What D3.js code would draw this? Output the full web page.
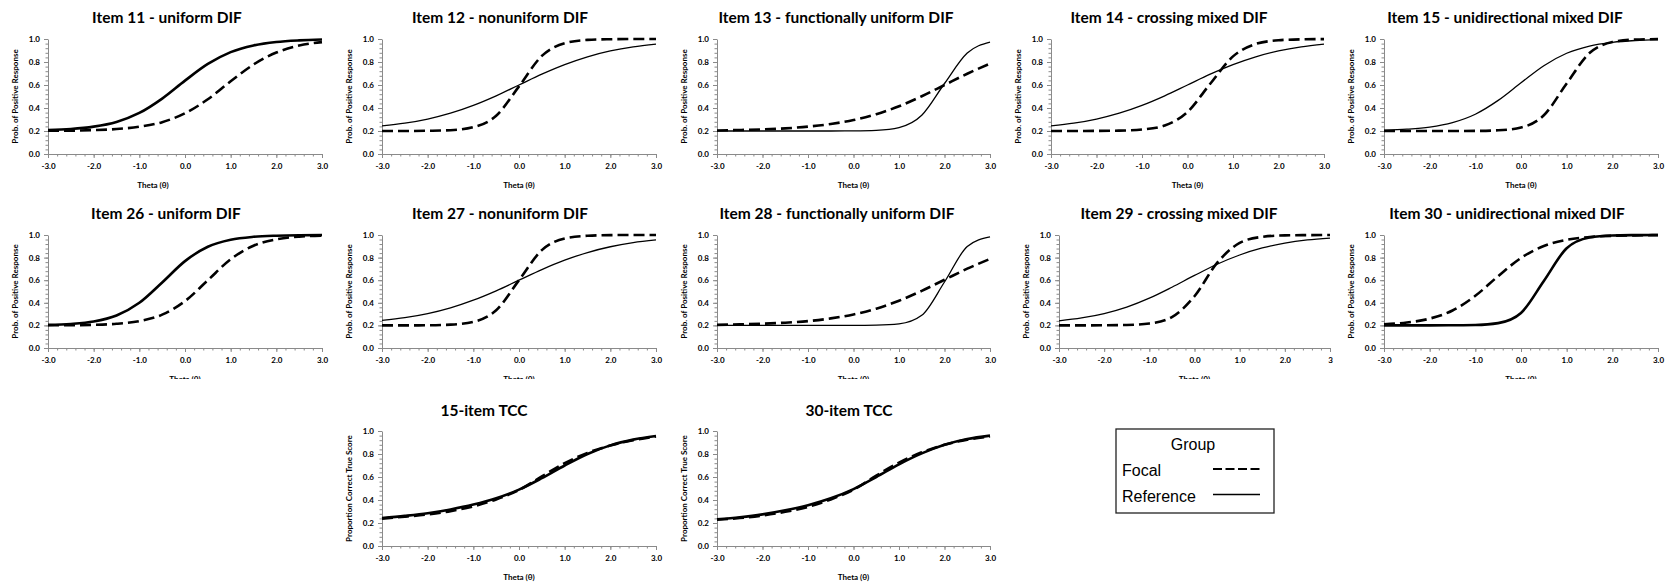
<!DOCTYPE html>
<html><head><meta charset="utf-8">
<script src="https://cdn.jsdelivr.net/npm/d3@7"></script>
<style>body{margin:0;background:#fff}</style>
</head><body>
<svg id="c" width="1671" height="587"></svg>
<script>
// ---------------- DATA ----------------
const theta = [-3,-2.5,-2,-1.5,-1,-0.5,0,0.5,1,1.5,2,2.5,3];
const xTickValues = [-3,-2,-1,0,1,2,3];
const xTickLabels = ["-3.0","-2.0","-1.0","0.0","1.0","2.0","3.0"];
const xTickLabels29 = ["-3.0","-2.0","-1.0","0.0","1.0","2.0","3"];
const yTickValues = [0,0.2,0.4,0.6,0.8,1.0];
const yTickLabels = ["0.0","0.2","0.4","0.6","0.8","1.0"];
const panelTitles = ["Item 11 - uniform DIF","Item 12 - nonuniform DIF","Item 13 - functionally uniform DIF","Item 14 - crossing mixed DIF","Item 15 - unidirectional mixed DIF",
  "Item 26 - uniform DIF","Item 27 - nonuniform DIF","Item 28 - functionally uniform DIF","Item 29 - crossing mixed DIF","Item 30 - unidirectional mixed DIF",
  "15-item TCC","30-item TCC"];
const xAxisTitle = "Theta (\u03b8)";
const yAxisTitleItem = "Prob. of Positive Response";
const yAxisTitleTCC = "Proportion Correct True Score";
const legendTitle = "Group";
const groups = ["Focal","Reference"];

const focal11 = [0.202,0.203,0.208,0.217,0.237,0.277,0.354,0.476,0.632,0.778,0.882,0.943,0.973];
const reference11 = [0.208,0.217,0.238,0.279,0.357,0.482,0.638,0.783,0.886,0.944,0.974,0.988,0.995];
const focal12 = [0.200,0.200,0.202,0.207,0.233,0.333,0.588,0.853,0.963,0.992,0.998,1.000,1.000];
const reference12 = [0.244,0.268,0.304,0.355,0.423,0.506,0.600,0.694,0.777,0.845,0.896,0.932,0.956];
const focal13 = [0.205,0.209,0.214,0.223,0.238,0.261,0.295,0.346,0.415,0.502,0.600,0.698,0.785];
const reference13 = [0.200,0.200,0.200,0.200,0.200,0.200,0.201,0.206,0.230,0.337,0.613,0.878,0.973];
const focal14 = [0.200,0.200,0.201,0.203,0.213,0.248,0.366,0.611,0.849,0.957,0.989,0.997,0.999];
const reference14 = [0.244,0.268,0.304,0.355,0.423,0.506,0.600,0.694,0.777,0.845,0.896,0.932,0.956];
const focal15 = [0.200,0.200,0.200,0.200,0.201,0.206,0.230,0.337,0.613,0.878,0.973,0.995,0.999];
const reference15 = [0.207,0.216,0.234,0.273,0.346,0.466,0.619,0.768,0.876,0.939,0.971,0.987,0.994];
const focal26 = [0.201,0.202,0.205,0.214,0.238,0.295,0.415,0.600,0.785,0.905,0.962,0.986,0.995];
const reference26 = [0.205,0.213,0.234,0.287,0.400,0.580,0.769,0.896,0.958,0.984,0.994,0.998,0.999];
const focal27 = [0.200,0.200,0.201,0.207,0.231,0.334,0.600,0.866,0.969,0.993,0.999,1.000,1.000];
const reference27 = [0.244,0.268,0.304,0.355,0.423,0.506,0.600,0.694,0.777,0.845,0.896,0.932,0.956];
const focal28 = [0.205,0.209,0.215,0.224,0.238,0.262,0.297,0.348,0.418,0.506,0.604,0.702,0.788];
const reference28 = [0.200,0.200,0.200,0.200,0.200,0.200,0.200,0.202,0.213,0.289,0.584,0.898,0.984];
const focal29 = [0.200,0.200,0.201,0.204,0.217,0.274,0.458,0.753,0.930,0.984,0.997,0.999,1.000];
const reference29 = [0.240,0.266,0.305,0.362,0.441,0.538,0.642,0.741,0.823,0.885,0.928,0.956,0.973];
const focal30 = [0.210,0.225,0.260,0.332,0.462,0.636,0.797,0.903,0.958,0.982,0.993,0.997,0.999];
const reference30 = [0.200,0.200,0.200,0.201,0.203,0.220,0.310,0.593,0.883,0.978,0.996,0.999,1.000];
const focalTCC15 = [0.238,0.255,0.275,0.303,0.345,0.405,0.487,0.605,0.720,0.810,0.873,0.920,0.952];
const referenceTCC15 = [0.243,0.262,0.285,0.318,0.360,0.415,0.490,0.590,0.700,0.800,0.875,0.925,0.957];
const focalTCC30 = [0.228,0.243,0.265,0.297,0.340,0.405,0.490,0.612,0.725,0.815,0.880,0.925,0.953];
const referenceTCC30 = [0.232,0.250,0.275,0.310,0.355,0.415,0.495,0.600,0.710,0.805,0.880,0.930,0.960];

// ---------------- LAYOUT ----------------
const panels = [
  {t:0, f:focal11, r:reference11, thick:true,  yl:yAxisTitleItem, xt:xTickLabels, x0:48,  x1:322,  y0:39,  y1:154, tx:167,  ty:23,  thx:153},
  {t:1, f:focal12, r:reference12, thick:false, yl:yAxisTitleItem, xt:xTickLabels, x0:382, x1:656,  y0:39,  y1:154, tx:500,  ty:23},
  {t:2, f:focal13, r:reference13, thick:false, yl:yAxisTitleItem, xt:xTickLabels, x0:717, x1:990,  y0:39,  y1:154, tx:836,  ty:23},
  {t:3, f:focal14, r:reference14, thick:false, yl:yAxisTitleItem, xt:xTickLabels, x0:1051,x1:1324, y0:39,  y1:154, tx:1169, ty:23},
  {t:4, f:focal15, r:reference15, thick:false, yl:yAxisTitleItem, xt:xTickLabels, x0:1384,x1:1658, y0:39,  y1:154, tx:1505, ty:23},
  {t:5, f:focal26, r:reference26, thick:true,  yl:yAxisTitleItem, xt:xTickLabels, x0:48,  x1:322,  y0:235, y1:348, tx:166,  ty:219, clipTheta:true},
  {t:6, f:focal27, r:reference27, thick:false, yl:yAxisTitleItem, xt:xTickLabels, x0:382, x1:656,  y0:235, y1:348, tx:500,  ty:219, clipTheta:true},
  {t:7, f:focal28, r:reference28, thick:false, yl:yAxisTitleItem, xt:xTickLabels, x0:717, x1:990,  y0:235, y1:348, tx:837,  ty:219, clipTheta:true},
  {t:8, f:focal29, r:reference29, thick:false, yl:yAxisTitleItem, xt:xTickLabels29,x0:1059,x1:1330, y0:235, y1:348, tx:1179, ty:219, clipTheta:true},
  {t:9, f:focal30, r:reference30, thick:true,  yl:yAxisTitleItem, xt:xTickLabels, x0:1384,x1:1658, y0:235, y1:348, tx:1507, ty:219, clipTheta:true},
  {t:10,f:focalTCC15,r:referenceTCC15,thick:true,yl:yAxisTitleTCC, xt:xTickLabels, x0:382, x1:656,  y0:431, y1:546, tx:484,  ty:416},
  {t:11,f:focalTCC30,r:referenceTCC30,thick:true,yl:yAxisTitleTCC, xt:xTickLabels, x0:717, x1:990,  y0:431, y1:546, tx:849,  ty:416}
];

const svg = d3.select("#c");
const FONT = "Lato, 'Open Sans', sans-serif";
const AXIS = "#8a8a8a";

// clip for row-2 axis titles (mostly covered by row 3 in the original)
svg.append("defs").append("clipPath").attr("id","row2clip")
  .append("rect").attr("x",0).attr("y",0).attr("width",1671).attr("height",379);

panels.forEach(p => {
  const x = d3.scaleLinear().domain([-3,3]).range([p.x0, p.x1]);
  const y = d3.scaleLinear().domain([0,1]).range([p.y1, p.y0]);
  const g = svg.append("g");

  g.append("text").attr("x", p.tx).attr("y", p.ty).attr("text-anchor","middle")
    .attr("font-family", FONT).attr("font-weight","bold").attr("font-size", 15.5)
    .text(panelTitles[p.t]);

  const xm = g.append("g").attr("transform", `translate(0,${p.y1})`)
    .call(d3.axisBottom(x).tickValues(d3.range(-3,3.001,0.2)).tickSize(2.5).tickFormat(""));
  xm.select(".domain").remove();
  xm.selectAll("line").attr("stroke", AXIS);
  const ym = g.append("g").attr("transform", `translate(${p.x0},0)`)
    .call(d3.axisLeft(y).tickValues(d3.range(0,1.001,0.04)).tickSize(2.5).tickFormat(""));
  ym.select(".domain").remove();
  ym.selectAll("line").attr("stroke", AXIS);

  const xa = g.append("g").attr("transform", `translate(0,${p.y1})`)
    .call(d3.axisBottom(x).tickValues(xTickValues).tickSize(4).tickSizeOuter(0).tickPadding(5)
      .tickFormat((d,i) => p.xt[i]));
  const ya = g.append("g").attr("transform", `translate(${p.x0},0)`)
    .call(d3.axisLeft(y).tickValues(yTickValues).tickSize(4).tickSizeOuter(0).tickPadding(4)
      .tickFormat((d,i) => yTickLabels[i]));
  [xa, ya].forEach(a => {
    a.select(".domain").attr("stroke", AXIS);
    a.selectAll("line").attr("stroke", AXIS);
    a.selectAll("text").attr("font-family", FONT).attr("font-weight","bold")
      .attr("font-size", 8).attr("fill","#000");
  });

  const th = g.append("text").attr("x", p.thx || (p.x0+p.x1)/2).attr("y", p.y1+34).attr("text-anchor","middle")
    .attr("font-family", FONT).attr("font-weight","bold").attr("font-size", 8).text(xAxisTitle);
  if (p.clipTheta) th.attr("clip-path","url(#row2clip)");
  g.append("text").attr("transform", `translate(${p.x0-30},${(p.y0+p.y1)/2}) rotate(-90)`)
    .attr("text-anchor","middle").attr("font-family", FONT).attr("font-weight","bold")
    .attr("font-size", 8).text(p.yl);

  const line = d3.line().x((d,i) => x(theta[i])).y(d => y(d)).curve(d3.curveMonotoneX);
  g.append("path").datum(p.r).attr("d", line).attr("fill","none").attr("stroke","#000")
    .attr("stroke-width", p.thick ? 2.6 : 1.3);
  g.append("path").datum(p.f).attr("d", line).attr("fill","none").attr("stroke","#000")
    .attr("stroke-width", 2.6).attr("stroke-dasharray","11,5");
});

// legend
const LFONT = "'Liberation Sans', Arial, sans-serif";
const lg = svg.append("g");
lg.append("rect").attr("x",1116).attr("y",429).attr("width",158).attr("height",84)
  .attr("fill","#fff").attr("stroke","#222").attr("stroke-width",1.3);
lg.append("text").attr("x",1193).attr("y",450).attr("text-anchor","middle")
  .attr("font-family",LFONT).attr("font-size",16).text(legendTitle);
groups.forEach((gname,i) => {
  const yy = 476 + i*25.5;
  lg.append("text").attr("x",1122).attr("y",yy).attr("font-family",LFONT)
    .attr("font-size",16).text(gname);
  lg.append("line").attr("x1",1213).attr("x2",1260).attr("y1",yy-7).attr("y2",yy-7)
    .attr("stroke","#000").attr("stroke-width", i===0 ? 2.2 : 1.6)
    .attr("stroke-dasharray", i===0 ? "9,3.5" : null);
});
</script>
</body></html>
